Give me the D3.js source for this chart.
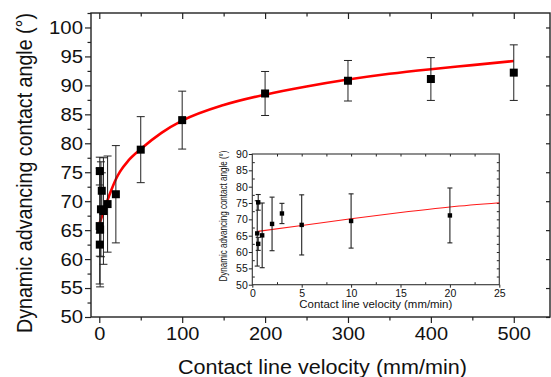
<!DOCTYPE html>
<html>
<head>
<meta charset="utf-8">
<script src="https://cdn.jsdelivr.net/npm/d3@7"></script>
<style>
  body { margin: 0; background: #fff; }
  text { font-family: Arial, "Liberation Sans", sans-serif; fill: #111; }
</style>
</head>
<body>
<div id="chart"></div>
<script>
// measured points: velocity (mm/min), advancing angle (deg), error bar half height
var velocity = [0.5, 0.6, 0.6, 1, 2, 3, 5, 10, 20, 50, 100, 200, 300, 400, 500];
var angle    = [65.7, 75.2, 62.5, 65.1, 68.6, 71.8, 68.3, 69.5, 71.2, 78.9, 84.0, 88.6, 90.8, 91.1, 92.2];
var angleErr = [10.0, 2.4, 2.0, 9.9, 8.2, 3.1, 9.2, 8.3, 8.4, 5.7, 5.0, 3.8, 3.5, 3.7, 4.8];

// red fit curve
var fitVelocity = [0.5, 5, 10, 15, 20, 25, 35, 50, 75, 100, 150, 200, 250, 300, 350, 400, 450, 500];
var fitAngle    = [66.3, 68.1, 70.2, 72.1, 73.8, 75.1, 77.0, 79.0, 81.8, 83.9, 86.6, 88.4, 89.8, 91.0, 92.0, 92.8, 93.5, 94.2];

var xTicks = [0, 100, 200, 300, 400, 500];
var yTicks = [50, 55, 60, 65, 70, 75, 80, 85, 90, 95, 100];
var insetXTicks = [0, 5, 10, 15, 20, 25];
var insetYTicks = [50, 55, 60, 65, 70, 75, 80, 85, 90];

var xTitle = "Contact line velocity (mm/min)";
var yTitle = "Dynamic advancing contact angle (°)";

var width = 551, height = 377;

var svg = d3.select("#chart").append("svg")
    .attr("width", width)
    .attr("height", height);

var points = velocity.map((v, i) => ({v: v, a: angle[i], e: angleErr[i]}));
var fit = fitVelocity.map((v, i) => ({v: v, a: fitAngle[i]}));

// stretch text horizontally a little, like the original export
function stretch(sel, k) {
    sel.each(function() {
        var w = this.getComputedTextLength();
        d3.select(this).attr("textLength", w * k).attr("lengthAdjust", "spacingAndGlyphs");
    });
}

function range(a, b, step) {
    var out = [];
    for (var t = a; t <= b + 1e-9; t += step) out.push(+t.toFixed(3));
    return out;
}

// ---------- main plot ----------
var mLeft = 91, mRight = 550, mTop = 13, mBottom = 317;

var x = d3.scaleLinear().domain([-10, 543.7]).range([mLeft, mRight]);
var y = d3.scaleLinear().domain([50, 102.5]).range([mBottom, mTop]);

function styleAxis(g, size, sw) {
    g.select(".domain").remove();
    g.selectAll("line").attr("stroke", "#222").attr("stroke-width", sw);
    g.selectAll("text").style("font-size", size + "px").attr("fill", "#111");
}

// left
var gl = svg.append("g").attr("transform", `translate(${mLeft},0)`)
    .call(d3.axisLeft(y).tickValues(yTicks).tickSize(6).tickPadding(2));
styleAxis(gl, 18.5, 1.2);
stretch(gl.selectAll("text"), 1.1);
var glm = svg.append("g").attr("transform", `translate(${mLeft},0)`)
    .call(d3.axisLeft(y).tickValues(range(52.5, 102.5, 5)).tickSize(3.5).tickFormat(""));
styleAxis(glm, 10, 1.2);

// bottom
var gb = svg.append("g").attr("transform", `translate(0,${mBottom})`)
    .call(d3.axisBottom(x).tickValues(xTicks).tickSize(6).tickPadding(4));
styleAxis(gb, 18.5, 1.2);
stretch(gb.selectAll("text"), 1.08);
var gbm = svg.append("g").attr("transform", `translate(0,${mBottom})`)
    .call(d3.axisBottom(x).tickValues(range(50, 450, 100)).tickSize(3.5).tickFormat(""));
styleAxis(gbm, 10, 1.2);

// top (ticks point inward)
var gt = svg.append("g").attr("transform", `translate(0,${mTop})`)
    .call(d3.axisTop(x).tickValues(xTicks).tickSize(-6).tickFormat(""));
styleAxis(gt, 10, 1.2);
var gtm = svg.append("g").attr("transform", `translate(0,${mTop})`)
    .call(d3.axisTop(x).tickValues(range(50, 450, 100)).tickSize(-3.5).tickFormat(""));
styleAxis(gtm, 10, 1.2);

// right (ticks point inward)
var gr = svg.append("g").attr("transform", `translate(${mRight},0)`)
    .call(d3.axisRight(y).tickValues(yTicks).tickSize(-4).tickFormat(""));
styleAxis(gr, 10, 1.2);

svg.append("rect")
    .attr("x", mLeft).attr("y", mTop)
    .attr("width", mRight - mLeft).attr("height", mBottom - mTop)
    .attr("fill", "none").attr("stroke", "#222").attr("stroke-width", 1.4);

// fit curve
var line = d3.line()
    .x(d => x(d.v))
    .y(d => y(d.a))
    .curve(d3.curveMonotoneX);

svg.append("path")
    .datum(fit)
    .attr("fill", "none")
    .attr("stroke", "#ff0000")
    .attr("stroke-width", 2.6)
    .attr("d", line);

// error bars
var eb = svg.append("g").attr("stroke", "#222").attr("stroke-width", 1);
eb.selectAll(".v").data(points).join("line")
    .attr("x1", d => x(d.v)).attr("x2", d => x(d.v))
    .attr("y1", d => y(d.a + d.e)).attr("y2", d => y(d.a - d.e));
eb.selectAll(".t").data(points).join("line")
    .attr("x1", d => x(d.v) - 4).attr("x2", d => x(d.v) + 4)
    .attr("y1", d => y(d.a + d.e)).attr("y2", d => y(d.a + d.e));
eb.selectAll(".b").data(points).join("line")
    .attr("x1", d => x(d.v) - 4).attr("x2", d => x(d.v) + 4)
    .attr("y1", d => y(d.a - d.e)).attr("y2", d => y(d.a - d.e));

svg.append("g").selectAll("rect").data(points).join("rect")
    .attr("x", d => x(d.v) - 4).attr("y", d => y(d.a) - 4)
    .attr("width", 8).attr("height", 8)
    .attr("fill", "#000");

// titles
svg.append("text")
    .attr("x", 322.5).attr("y", 374)
    .attr("text-anchor", "middle")
    .style("font-size", "19.5px")
    .attr("textLength", 289).attr("lengthAdjust", "spacingAndGlyphs")
    .text(xTitle);

svg.append("text")
    .attr("transform", "translate(32,173) scale(1.12,1) rotate(-90)")
    .attr("text-anchor", "middle")
    .style("font-size", "19.6px")
    .attr("textLength", 320).attr("lengthAdjust", "spacingAndGlyphs")
    .text(yTitle);

// ---------- inset ----------
var iLeft = 252.3, iRight = 499.3, iTop = 154, iBottom = 284.7;
var xi = d3.scaleLinear().domain([0, 25]).range([iLeft, iRight]);
var yi = d3.scaleLinear().domain([50, 90]).range([iBottom, iTop]);

svg.append("rect")
    .attr("x", iLeft).attr("y", iTop)
    .attr("width", iRight - iLeft).attr("height", iBottom - iTop)
    .attr("fill", "#fff");

var inset = svg.append("g");

var il1 = inset.append("g").attr("transform", `translate(${iLeft},0)`)
    .call(d3.axisLeft(yi).tickValues(insetYTicks).tickSize(3.5).tickPadding(1));
styleAxis(il1, 10.5, 1);
il1.selectAll("text").attr("fill", "#333");
var il2 = inset.append("g").attr("transform", `translate(${iLeft},0)`)
    .call(d3.axisLeft(yi).tickValues(range(52.5, 87.5, 5)).tickSize(-2.5).tickFormat(""));
styleAxis(il2, 10, 1);

var ib1 = inset.append("g").attr("transform", `translate(0,${iBottom})`)
    .call(d3.axisBottom(xi).tickValues(insetXTicks).tickSize(3).tickPadding(1.5));
styleAxis(ib1, 10.5, 1);
ib1.selectAll("text").attr("fill", "#333");
var ib2 = inset.append("g").attr("transform", `translate(0,${iBottom})`)
    .call(d3.axisBottom(xi).tickValues(range(2.5, 22.5, 5)).tickSize(-2.5).tickFormat(""));
styleAxis(ib2, 10, 1);

var it1 = inset.append("g").attr("transform", `translate(0,${iTop})`)
    .call(d3.axisTop(xi).tickValues(range(2.5, 22.5, 2.5)).tickSize(-2.5).tickFormat(""));
styleAxis(it1, 10, 1);
var ir1 = inset.append("g").attr("transform", `translate(${iRight},0)`)
    .call(d3.axisRight(yi).tickValues(range(52.5, 87.5, 2.5)).tickSize(-2.5).tickFormat(""));
styleAxis(ir1, 10, 1);

inset.append("rect")
    .attr("x", iLeft).attr("y", iTop)
    .attr("width", iRight - iLeft).attr("height", iBottom - iTop)
    .attr("fill", "none").attr("stroke", "#333").attr("stroke-width", 1.1);

var lineI = d3.line()
    .x(d => xi(d.v))
    .y(d => yi(d.a))
    .curve(d3.curveMonotoneX);

inset.append("path")
    .datum(fit.filter(d => d.v <= 25))
    .attr("fill", "none")
    .attr("stroke", "#ff1a1a")
    .attr("stroke-width", 1.1)
    .attr("d", lineI);

var insetPts = points.filter(d => d.v <= 25);
var ebi = inset.append("g").attr("stroke", "#222").attr("stroke-width", 1.1);
ebi.selectAll(".v").data(insetPts).join("line")
    .attr("x1", d => xi(d.v)).attr("x2", d => xi(d.v))
    .attr("y1", d => yi(d.a + d.e)).attr("y2", d => yi(d.a - d.e));
ebi.selectAll(".t").data(insetPts).join("line")
    .attr("x1", d => xi(d.v) - 2.5).attr("x2", d => xi(d.v) + 2.5)
    .attr("y1", d => yi(d.a + d.e)).attr("y2", d => yi(d.a + d.e));
ebi.selectAll(".b").data(insetPts).join("line")
    .attr("x1", d => xi(d.v) - 2.5).attr("x2", d => xi(d.v) + 2.5)
    .attr("y1", d => yi(d.a - d.e)).attr("y2", d => yi(d.a - d.e));

inset.append("g").selectAll("rect").data(insetPts).join("rect")
    .attr("x", d => xi(d.v) - 2.2).attr("y", d => yi(d.a) - 2.2)
    .attr("width", 4.4).attr("height", 4.4)
    .attr("fill", "#000");

inset.append("text")
    .attr("x", (iLeft + iRight) / 2).attr("y", 307.5)
    .attr("text-anchor", "middle")
    .style("font-size", "11px")
    .attr("fill", "#333")
    .attr("textLength", 153).attr("lengthAdjust", "spacingAndGlyphs")
    .text(xTitle);

inset.append("text")
    .attr("transform", "translate(226.5,216) rotate(-90)")
    .attr("text-anchor", "middle")
    .style("font-size", "11.5px")
    .attr("fill", "#333")
    .attr("textLength", 131).attr("lengthAdjust", "spacingAndGlyphs")
    .text(yTitle);
</script>
</body>
</html>
